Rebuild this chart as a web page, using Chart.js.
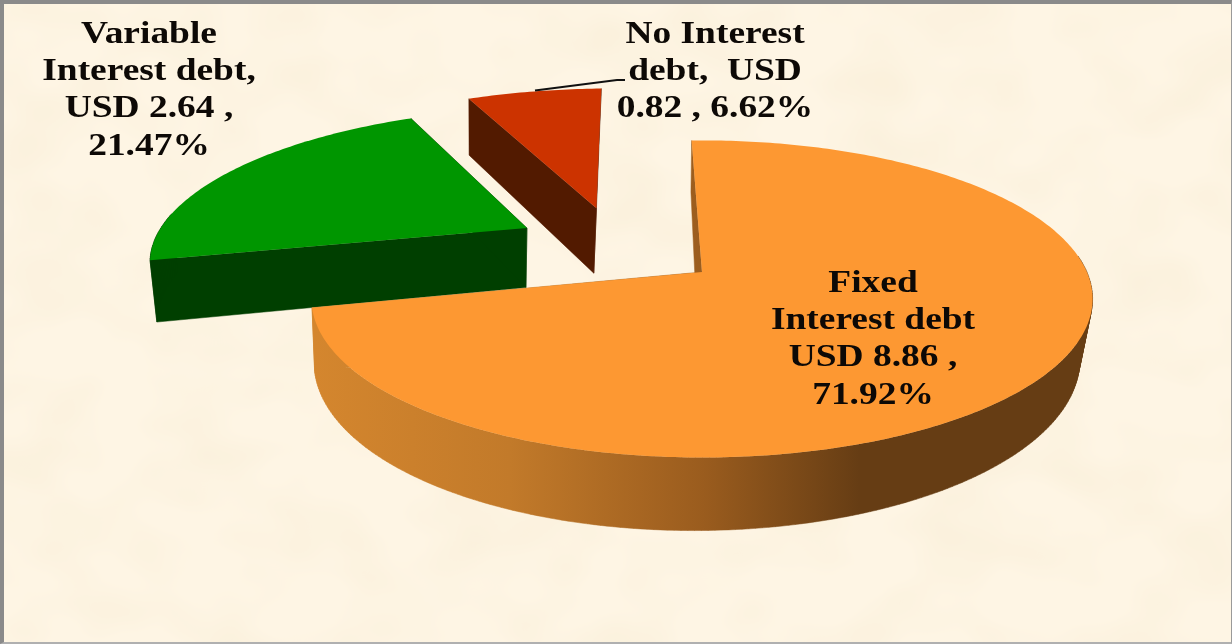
<!DOCTYPE html>
<html>
<head>
<meta charset="utf-8">
<title>Debt by interest type</title>
<script src="https://cdn.jsdelivr.net/npm/chart.js@4/dist/chart.umd.js"></script>
<style>
    html, body { margin: 0; padding: 0; background: #fdf3e0; }
    #frame {
        position: relative;
        width: 1232px;
        height: 644px;
        box-sizing: border-box;
        overflow: hidden;
        border-top: 4px solid #8a8a8a;
        border-left: 4px solid #8a8a8a;
        border-right: 1px solid #9a9a9a;
        border-bottom: 2px solid #b0b0b0;
        background-color: #fef5e4;
        /* mottled paper look */
        background-image: url("data:image/svg+xml,%3Csvg xmlns='http://www.w3.org/2000/svg' width='1232' height='644'%3E%3Cfilter id='p' x='0' y='0' width='100%25' height='100%25'%3E%3CfeTurbulence type='fractalNoise' baseFrequency='0.012 0.016' numOctaves='2' seed='7'/%3E%3CfeColorMatrix values='0 0 0 0 0.93 0 0 0 0 0.84 0 0 0 0 0.66 1.1 0 0 0 -0.44'/%3E%3C/filter%3E%3Crect width='1232' height='644' filter='url(%23p)'/%3E%3C/svg%3E");
    }
    canvas { position: absolute; left: -4px; top: -4px; }
</style>
</head>
<body>
<div id="frame"><canvas id="debt-chart" width="1232" height="644"></canvas></div>
<script>
// Chart data
const categories = ['Fixed Interest debt', 'Variable Interest debt', 'No Interest debt'];
const shareValues = [71.92, 21.47, 6.62];
const topColors = ['#fd9832', '#009600', '#cc3300'];

// Label lines, same order as categories
const fixedLabel = ['Fixed', 'Interest debt', 'USD 8.86 ,', '71.92%'];
const variableLabel = ['Variable', 'Interest debt,', 'USD 2.64 ,', '21.47%'];
const noInterestLabel = ['No Interest', 'debt,  USD', '0.82 , 6.62%'];

// Look of the tilted pie
const tilt = {
    spreadX: 1.415,     // horizontal stretch against the library radius
    spreadY: 0.566,     // vertical squash
    perspective: 0.17,  // far side gets smaller
    thickness: 0.223,   // wall height
    drift: 0.02,        // floor of the pie leans to driftX
    driftX: 480
};
// explode distance of each slice, in pie radii (across, away)
const explode = [[0, 0], [-0.478, 0.3], [-0.295, 0.445]];
const sliceScale = [1, 1, 1.05];
const wallScale = [1, 1.03, 1.15];
const wallColors = [null, '#003f00', '#521a00'];
// floor of the big slice leans right towards the far side
const wallLean = [3.5, 0, 0];

function project(pie, u, v, z) {
    const w = 1 + tilt.perspective * v;
    let x = pie.x + pie.r * tilt.spreadX * u / w;
    const y = pie.y + pie.r * (-tilt.spreadY * v + tilt.thickness * z) / w;
    x += z * (pie.lean * v - tilt.drift * (x - tilt.driftX));
    return { x: x, y: y };
}

// Outline of a slice in the pie plane, walked round from its tip
function sliceOutline(el, shift, scale) {
    const pts = [{ u: shift[0], v: shift[1] }];
    const steps = Math.ceil((el.endAngle - el.startAngle) / 0.015);
    for (let i = 0; i <= steps; i++) {
        const a = el.startAngle + (el.endAngle - el.startAngle) * i / steps;
        pts.push({
            u: shift[0] + scale * Math.cos(a),
            v: shift[1] - scale * Math.sin(a),
            back: Math.sin(a) < -0.1
        });
    }
    pts.push(pts[0]);
    return pts;
}

function fillPath(ctx, pts, pie, z, color) {
    ctx.beginPath();
    pts.forEach((p, i) => {
        const s = project(pie, p.u, p.v, z);
        if (i === 0) ctx.moveTo(s.x, s.y); else ctx.lineTo(s.x, s.y);
    });
    ctx.closePath();
    ctx.fillStyle = color;
    ctx.fill();
}

// All walls go in one path so no seams show between the pieces
function drawWalls(ctx, pts, pie, z, color) {
    ctx.beginPath();
    for (let i = 0; i < pts.length - 1; i++) {
        const p = pts[i];
        const q = pts[i + 1];
        // rim on the far side is hidden behind the top face
        if (p.back && q.back) continue;
        const a = project(pie, p.u, p.v, 0);
        const b = project(pie, q.u, q.v, 0);
        const c = project(pie, q.u, q.v, z);
        const d = project(pie, p.u, p.v, z);
        // keep every piece wound the same way
        const area = (b.x - a.x) * (c.y - a.y) - (b.y - a.y) * (c.x - a.x);
        ctx.moveTo(a.x, a.y);
        if (area > 0) {
            ctx.lineTo(b.x, b.y);
            ctx.lineTo(c.x, c.y);
            ctx.lineTo(d.x, d.y);
        } else {
            ctx.lineTo(d.x, d.y);
            ctx.lineTo(c.x, c.y);
            ctx.lineTo(b.x, b.y);
        }
        ctx.closePath();
    }
    ctx.fillStyle = color;
    ctx.fill();
    ctx.strokeStyle = color;
    ctx.lineWidth = 0.5;
    ctx.stroke();
}

// Replaces the flat arcs with tilted ones, using the angles the library worked out
const tiltedPie = {
    id: 'tiltedPie',
    beforeDatasetsDraw(chart) {
        const ctx = chart.ctx;
        const arcs = chart.getDatasetMeta(0).data;
        const fixedWall = ctx.createLinearGradient(315, 0, 1093, 0);
        fixedWall.addColorStop(0, '#d4862e');
        fixedWall.addColorStop(0.25, '#c27a2a');
        fixedWall.addColorStop(0.5, '#9a5c1e');
        fixedWall.addColorStop(0.7, '#663d14');
        fixedWall.addColorStop(1, '#663d14');

        // back slices first, the big one overlaps the others
        [2, 1, 0].forEach(idx => {
            const el = arcs[idx];
            const pie = { x: el.x, y: el.y, r: el.outerRadius, lean: wallLean[idx] };
            const pts = sliceOutline(el, explode[idx], sliceScale[idx]);
            drawWalls(ctx, pts, pie, wallScale[idx], wallColors[idx] || fixedWall);
            fillPath(ctx, pts, pie, 0, el.options.backgroundColor);
        });
        return false;
    }
};

// The reference type is set wide, so stretch the lines sideways
function drawLabel(ctx, lines, x, firstBaseline) {
    lines.forEach((line, i) => {
        ctx.save();
        ctx.translate(x, firstBaseline + i * 37.2);
        ctx.scale(1.17, 1);
        ctx.fillText(line, 0, 0);
        ctx.restore();
    });
}

const sliceLabels = {
    id: 'sliceLabels',
    afterDraw(chart) {
        const ctx = chart.ctx;
        ctx.save();
        // leader line for the small slice
        ctx.strokeStyle = '#111111';
        ctx.lineWidth = 2;
        ctx.beginPath();
        ctx.moveTo(535, 90.5);
        ctx.lineTo(617, 80);
        ctx.lineTo(625, 80);
        ctx.stroke();

        ctx.font = 'bold 32px "Liberation Serif"';
        ctx.fillStyle = '#0d0906';
        ctx.textAlign = 'center';
        ctx.textBaseline = 'alphabetic';
        drawLabel(ctx, variableLabel, 149, 43);
        drawLabel(ctx, noInterestLabel, 715, 43);
        drawLabel(ctx, fixedLabel, 873, 292);
        ctx.restore();
    }
};

new Chart(document.getElementById('debt-chart').getContext('2d'), {
    type: 'pie',
    data: {
        labels: categories,
        datasets: [{
            data: shareValues,
            backgroundColor: topColors,
            borderWidth: 0
        }]
    },
    options: {
        responsive: false,
        animation: false,
        rotation: -1.8,
        layout: { padding: { left: 172, bottom: 100 } },
        plugins: {
            legend: { display: false },
            tooltip: { enabled: false }
        }
    },
    plugins: [tiltedPie, sliceLabels]
});
</script>
</body>
</html>
